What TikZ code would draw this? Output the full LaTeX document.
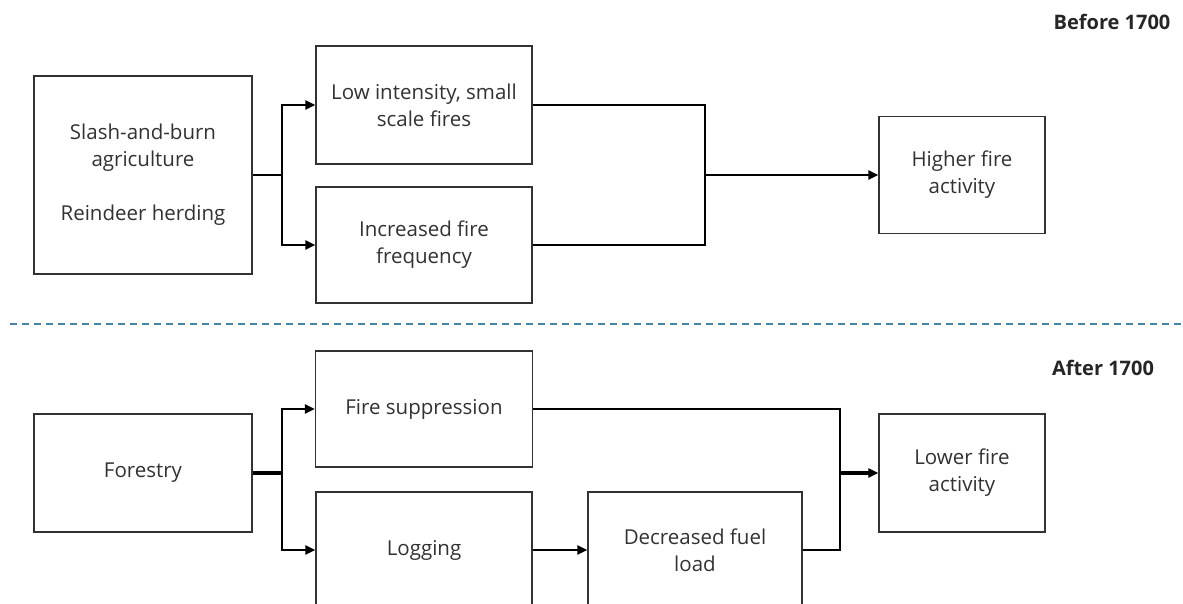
\documentclass[tikz,border=0pt]{standalone}
\usepackage{fontspec}
\setmainfont{Open Sans}
\usetikzlibrary{arrows.meta}

\definecolor{boxgray}{RGB}{50,50,50}
\definecolor{textgray}{RGB}{50,50,50}
\definecolor{sepblue}{RGB}{70,132,168}

\tikzset{
  box/.style={draw=boxgray, line width=1.4pt, fill=white, text=textgray,
    align=center, inner sep=0pt, font=\fontsize{20.5}{27}\selectfont},
  flow/.style={line width=2.6pt},
  flowto/.style={flow, -{Triangle[length=10pt,width=9pt]}},
  period/.style={font=\fontsize{20}{22}\selectfont\bfseries, text=black!85}
}

\begin{document}
\begin{tikzpicture}[x=1pt,y=-1pt]
  \clip (0,0) rectangle (1183,604);
  % Before 1700
  \node [period] (before) at (1112,22) {Before 1700};
  \node [box, minimum width=218, minimum height=198] (slash) at (143,175)
    {Slash-and-burn\\agriculture\\[27pt]Reindeer herding};
  \node [box, minimum width=216, minimum height=118] (lowint) at (424,105)
    {Low intensity, small\\scale fires};
  \node [box, minimum width=216, minimum height=116] (incr) at (424,245)
    {Increased fire\\frequency};
  \node [box, minimum width=166, minimum height=117] (higher) at (962,175)
    {Higher fire\\activity};
  \coordinate (s1) at (282,175);
  \coordinate (m1) at (705,175);
  \draw [flow] (slash.east) -- (s1);
  \draw [flowto] (s1) |- (lowint.west);
  \draw [flowto] (s1) |- (incr.west);
  \draw [flow] (lowint.east) -| (m1);
  \draw [flow] (incr.east) -| (m1);
  \draw [flowto] (m1) -- (higher.west);
  % Separator
  \draw [sepblue, line width=1.6pt, dash pattern=on 7pt off 5pt] (10,324) -- (1183,324);
  % After 1700
  \node [period] (after) at (1103,368) {After 1700};
  \node [box, minimum width=218, minimum height=118] (forestry) at (143,473)
    {Forestry};
  \node [box, minimum width=217, minimum height=116] (firesup) at (424,409)
    {Fire suppression};
  \node [box, minimum width=216, minimum height=116] (logging) at (424,550)
    {Logging};
  \node [box, minimum width=214, minimum height=116] (fuel) at (695,550)
    {Decreased fuel\\load};
  \node [box, minimum width=166, minimum height=118] (lower) at (962,473)
    {Lower fire\\activity};
  \coordinate (s2) at (282,473);
  \coordinate (m2) at (840,473);
  \draw [flow, line width=3.4pt] (forestry.east) -- (s2);
  \draw [flowto] (s2) |- (firesup.west);
  \draw [flowto] (s2) |- (logging.west);
  \draw [flowto] (logging.east) -- (fuel.west);
  \draw [flow] (firesup.east) -| (m2);
  \draw [flow] (fuel.east) -| (m2);
  \draw [flowto, line width=3.4pt] (m2) -- (lower.west);
\end{tikzpicture}
\end{document}
